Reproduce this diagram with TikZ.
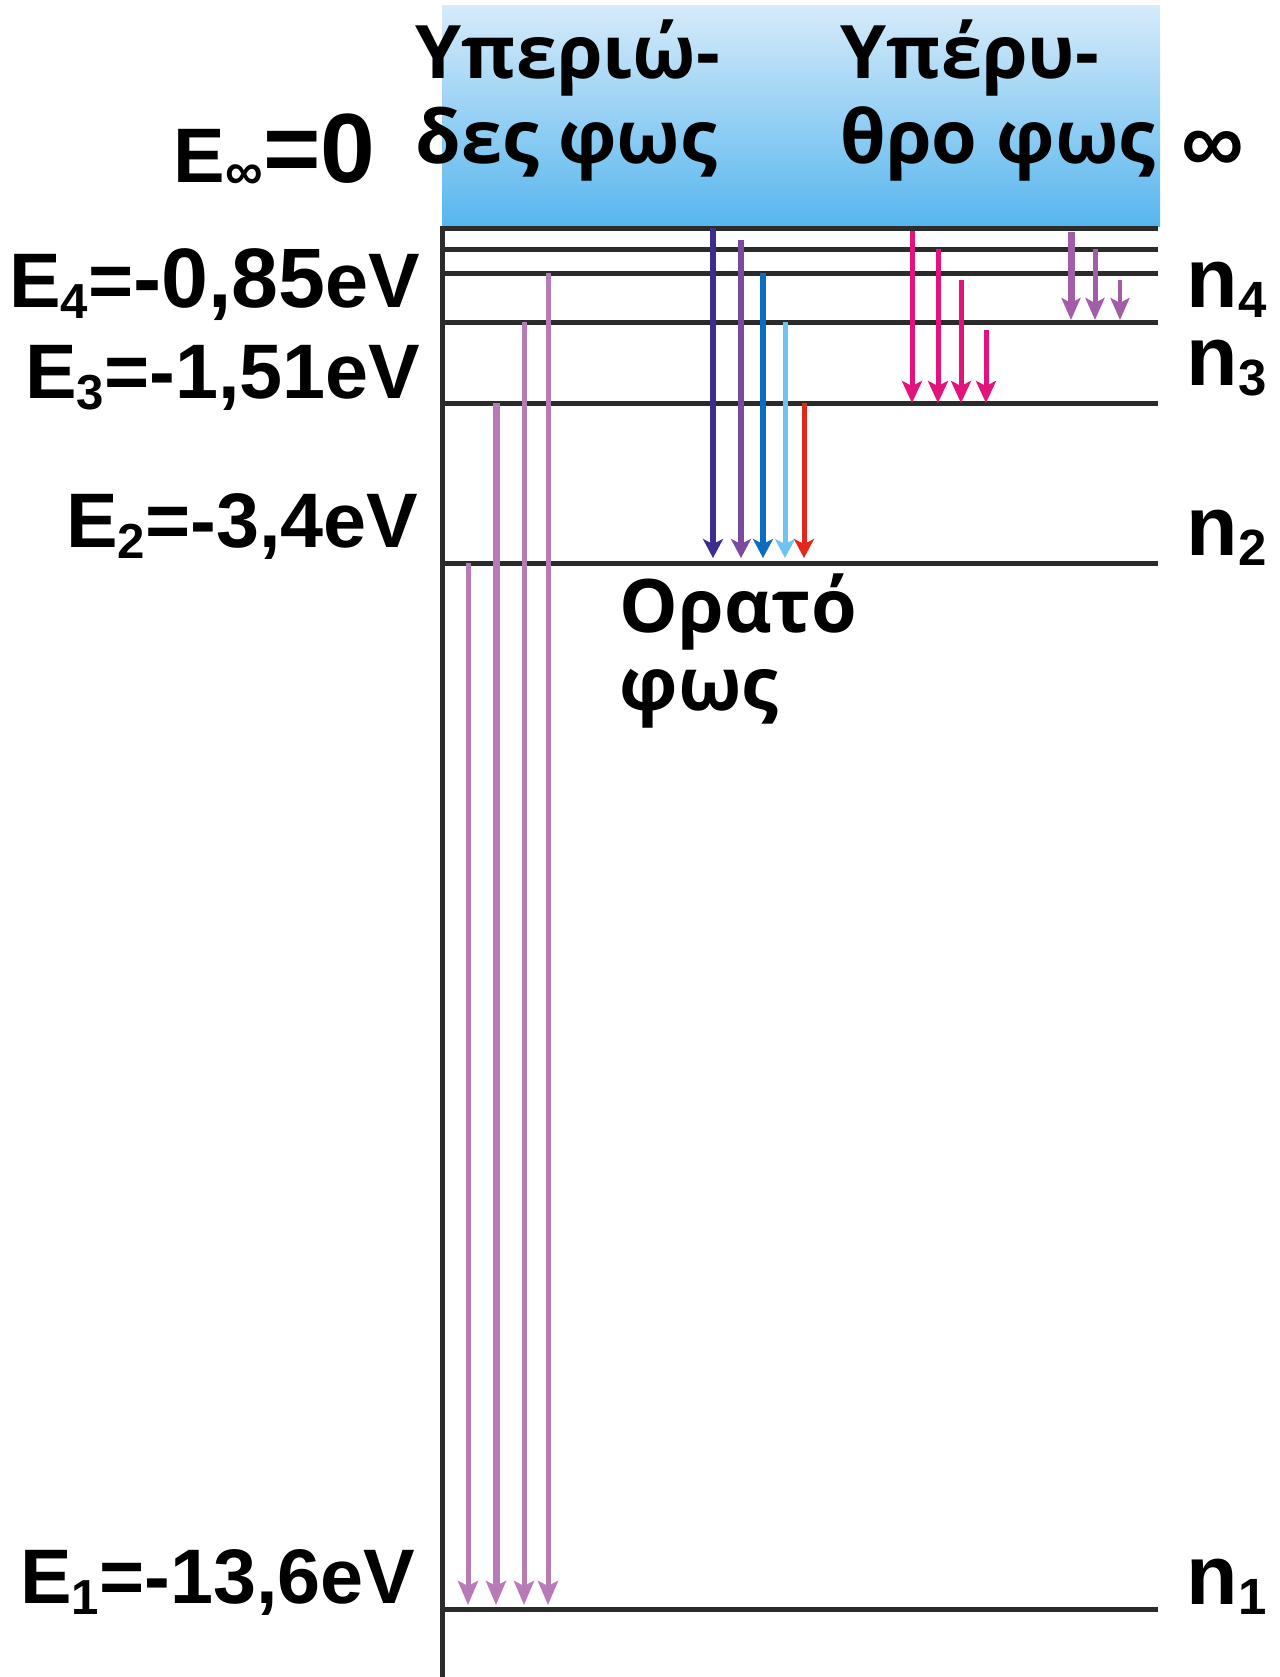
\documentclass[tikz,border=0pt]{standalone}
\usepackage{fontspec}
\setmainfont{Liberation Sans}
\newfontfamily\grfont{Open Sans}
\usetikzlibrary{arrows.meta}

\definecolor{lymcol}{HTML}{B77CB7}
\definecolor{balA}{HTML}{3E2C8E}
\definecolor{balB}{HTML}{7B4A9E}
\definecolor{balC}{HTML}{0B6CC1}
\definecolor{balD}{HTML}{6FC3F2}
\definecolor{balE}{HTML}{E3271B}
\definecolor{pascol}{HTML}{E2147C}
\definecolor{bracol}{HTML}{A35DA6}
\definecolor{boxtop}{HTML}{D6EBFA}
\definecolor{boxbot}{HTML}{57B6EE}
\definecolor{levcol}{HTML}{2B2B2B}

\newcommand\esub[1]{\raisebox{-3.3pt}{\fontsize{14}{14}\selectfont #1}}
\newcommand\nsub[1]{\raisebox{-3pt}{\fontsize{14.5}{14.5}\selectfont #1}}

\begin{document}
\begin{tikzpicture}[x=0.1mm,y=-0.1mm]
\tikzstyle{level} = [line width=0.5mm, draw=levcol]
\tikzstyle{axis} = [line width=0.5mm, draw=levcol]
\tikzstyle{lyman} = [draw=lymcol, -{Stealth[length=2.4mm,width=2mm,inset=0.5mm]}, shorten >=0.4mm]
\tikzstyle{balmer} = [-{Stealth[length=1.9mm,width=2mm,inset=0.5mm]}, shorten >=0.5mm]
\tikzstyle{paschen} = [line width=0.5mm, draw=pascol, -{Stealth[length=2.2mm,width=2mm,inset=0.5mm]}]
\tikzstyle{brackett} = [draw=bracol, -{Stealth[length=2.2mm,width=1.9mm,inset=0.5mm]}, shorten >=0.2mm]
\tikzstyle{elabel} = [inner sep=0pt, anchor=base east, font=\bfseries\fontsize{22}{22}\selectfont]
\tikzstyle{nlabel} = [inner sep=0pt, anchor=base west, font=\bfseries\fontsize{24}{24}\selectfont]
\tikzstyle{grlabel} = [inner sep=0pt, anchor=base west, font=\grfont\bfseries\fontsize{21}{21}\selectfont]

\useasboundingbox (0,0) rectangle (1280,1677);

%sky box
\shade[top color=boxtop, bottom color=boxbot] (442,5) rectangle (1160,226);

%levels
\foreach \n/\y in {inf/228, n6/249, n5/273, n4/322, n3/403, n2/563, n1/1609}{
  \coordinate (\n) at (442,\y);
  \draw[level] (\n) -- ++(716,0);
}
\coordinate (top) at (442,226);
\coordinate (bot) at (442,1677);
\draw[axis] (top) -- (bot);

%Lyman
\foreach \x/\a/\w in {468/n2/0.5, 496/n3/0.7, 524/n4/0.5, 548/n5/0.5}
  \draw[lyman, line width=\w mm] (\x,0 |- \a) -- (\x,0 |- n1);

%Balmer
\foreach \x/\a/\c/\s/\w in {713/inf/balA/0/0.6, 741/n6/balB/-0.9/0.55, 763/n5/balC/0/0.55, 785/n4/balD/0/0.5, 804/n3/balE/0/0.5}
  \draw[balmer, draw=\c, line width=\w mm, shorten <=\s mm] (\x,0 |- \a) -- (\x,0 |- n2);

%Paschen
\foreach \x/\a/\s in {912/inf/0.3, 938/n6/0, 961/n5/0.7, 986/n4/0.8}
  \draw[paschen, shorten <=\s mm] (\x,0 |- \a) -- (\x,0 |- n3);

%Brackett
\foreach \x/\a/\s/\w in {1071/inf/0.4/0.7, 1095/n6/0/0.5, 1120/n5/0.7/0.45}
  \draw[brackett, line width=\w mm, shorten <=\s mm] (\x,0 |- \a) -- (\x,0 |- n4);

%energy labels
\node (Einf) [elabel] at (376,182) {E\raisebox{-2pt}{\fontsize{15}{15}\selectfont ∞}{\fontsize{28}{28}\selectfont =0}};
\node (E4) [elabel] at (421,307) {E\esub{4}={\fontsize{24}{24}\selectfont -0,85}eV};
\node (E3) [elabel] at (421,398) {E\esub{3}=-1,51eV};
\node (E2) [elabel] at (419,547) {E\esub{2}=-3,4eV};
\node (E1) [elabel] at (416,1603) {E\esub{1}=-13,6eV};

%level names
\node (Ninf) at (1213,152) {\bfseries\fontsize{25}{25}\selectfont ∞};
\node (N4) [nlabel] at (1186,307) {n\nsub{4}};
\node (N3) [nlabel] at (1186,385) {n\nsub{3}};
\node (N2) [nlabel] at (1186,555) {n\nsub{2}};
\node (N1) [nlabel] at (1186,1604) {n\nsub{1}};

%series names
\node (uv1) [grlabel] at (415,78) {Υπεριώ-};
\node (uv2) [grlabel] at (415,163) {δες φως};
\node (ir1) [grlabel] at (840,78) {Υπέρυ-};
\node (ir2) [grlabel] at (840,163) {θρο φως};
\node (vis1) [grlabel] at (619,632) {Ορατό};
\node (vis2) [grlabel] at (619,710) {φως};
\end{tikzpicture}
\end{document}
